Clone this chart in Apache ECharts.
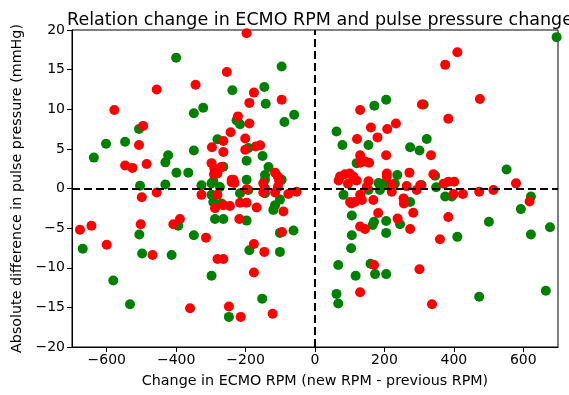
<!DOCTYPE html>
<html>
<head>
<meta charset="utf-8">
<script src="https://cdn.jsdelivr.net/npm/echarts@6/dist/echarts.min.js"></script>
<style>
html,body{margin:0;padding:0;background:#fff;}
#chart{width:569px;height:395px;}
</style>
</head>
<body>
<div id="chart"></div>
<script>
// Tick labels
var xTicks = [-600, -400, -200, 0, 200, 400, 600];
var yTicks = [-20, -15, -10, -5, 0, 5, 10, 15, 20];

// Red series: change in RPM
var redX = [-456,-578,-495,-507,-547,-526,-485,
  -197,-254,-344,-176,-189,-96,-222,-189,-243,-264,-201,-297,-264,-201,-171,-158,
  -298,-290,-281,-270,-291,-240,-235,-115,-107,-103,
  -240,-232,-197,-149,-144,-107,
  -456,-499,-677,-644,-600,-502,-468,-408,-389,-360,
  -327,-281,-288,-264,-245,-216,-197,-168,-149,-115,-77,-53,-91,-218,
  -314,-176,-146,-95,-281,-264,-176,-248,-214,-122,
  130,308,161,208,233,121,180,205,130,334,130,144,156,207,207,272,
  68,72,86,100,110,120,95,154,221,264,303,370,
  410,375,475,384,341,384,401,579,514,473,
  101,115,135,130,149,168,221,255,256,293,283,182,238,130,144,274,360,170,301,130,337,
  399,426,618,384,105];
// Red series: absolute difference in pulse pressure
var redY = [12.5,9.9,7.9,5.5,2.9,2.6,3.1,
  19.6,14.7,13.1,12.1,10.8,11.2,9.1,8.2,7.1,6.0,6.3,5.2,4.6,4.9,5.3,5.45,
  3.2,2.5,1.9,2.7,1.8,1.1,1.1,2.0,1.5,0.85,
  0.8,0.7,-0.1,0.65,0,0.2,
  -0.5,-1.1,-5.2,-4.7,-7.1,-4.5,-8.4,-4.5,-3.85,-15.1,
  -0.8,-0.8,-2.5,-2.1,-2.2,-1.8,-1.8,-2.4,-0.5,-0.5,-0.7,-0.4,-2.9,-3.85,
  -6.2,-7.0,-8.0,-5.5,-8.9,-8.9,-10.6,-14.9,-16.2,-15.8,
  9.9,10.6,7.7,7.5,8.2,6.25,6.45,4.2,4.2,4.2,3.25,3.4,3.25,1.9,1.5,2.0,
  1.0,1.5,1.8,1.9,1.5,1.0,0.6,0.9,0.5,0.3,0.4,0.6,
  17.2,15.6,11.3,8.8,1.8,0.85,0.85,0.65,-0.2,-0.4,
  -1.7,-1.7,-1.45,-0.8,0.2,-1.45,-0.4,-1.25,-1.9,-0.2,-3.05,-3.1,-3.8,-4.8,-5.1,-5.1,-6.4,-9.65,-10.2,-13.1,-14.6,
  -0.7,-0.7,-1.65,-3.6,-1.9];

// Green series
var greenX = [-400,-507,-602,-547,-637,-431,-423,-399,-365,-504,-431,
  -96,-238,-146,-142,-349,-322,-60,-88,-226,-216,-281,-192,-349,-151,-197,-134,-264,-197,-144,-144,-96,-327,-298,-274,-293,
  -192,-144,-216,
  -298,-293,-101,-115,-120,-288,-264,-197,-669,-506,-498,-413,-394,-581,-533,-349,-189,-101,-101,-62,-298,-152,-248,-269,
  205,171,313,62,79,154,322,274,301,120,237,346,183,192,207,230,307,696,552,349,
  82,154,187,274,106,245,170,166,205,205,106,104,67,160,173,205,117,62,67,375,394,622,593,501,410,622,677,473,665];
var greenY = [16.5,7.5,5.65,5.9,3.9,3.3,4.2,2.0,2.0,0.35,0.5,
  15.4,12.4,12.8,10.7,9.5,10.2,9.3,8.4,8.6,8.1,6.2,5.1,4.8,4.1,3.5,2.7,2.75,1.1,1.7,1.1,1.1,0.4,0.65,0.2,0.9,
  -0.2,-0.6,-0.6,
  -0.8,-1.7,-1.4,-2.1,-2.7,-3.85,-3.85,-4.05,-7.6,-5.8,-8.2,-8.4,-4.7,-11.6,-14.6,-5.9,-7.8,-8.0,-5.6,-5.3,-11.0,-13.9,-16.2,-1.9,
  11.2,10.45,10.6,7.2,5.5,5.5,6.25,5.2,4.8,3.2,1.7,1.6,0.7,0.6,0.6,0.6,0.45,19.1,2.4,0.15,
  -0.8,-0.2,-0.2,-1.7,-3.4,-4.5,-4.2,-4.6,-4.1,-5.6,-5.9,-7.55,-9.65,-9.5,-10.8,-10.8,-11.0,-13.3,-14.5,-1.0,-1.0,-1.0,-2.6,-4.2,-6.1,-5.8,-4.9,-13.65,-12.9];

function pairs(xs, ys){ var out=[]; for (var i=0;i<xs.length;i++) out.push([xs[i], ys[i]]); return out; }
function fmt(v){ return String(v).replace('-', '\u2212'); }

var font = 'DejaVu Sans';
var chart = echarts.init(document.getElementById('chart'), null, {renderer:'canvas'});
chart.setOption({
  animation:false,
  backgroundColor:'#fff',
  title:{
    text:'Relation change in ECMO RPM and pulse pressure change',
    left:315, top:6, textAlign:'center',
    textStyle:{fontFamily:font, fontSize:17.5, fontWeight:'normal', color:'#000'}
  },
  grid:{left:72, right:11, top:30, bottom:48, show:true, borderColor:'#000', borderWidth:1, backgroundColor:'transparent'},
  xAxis:{
    type:'value', min:-700, max:700,
    name:'Change in ECMO RPM (new RPM - previous RPM)', nameLocation:'middle', nameGap:27,
    nameTextStyle:{fontFamily:font, fontSize:14.3, color:'#000'},
    axisLine:{show:true, onZero:false, lineStyle:{color:'#000', width:1}},
    axisTick:{show:true, length:5, customValues:xTicks, lineStyle:{color:'#000'}},
    axisLabel:{show:true, margin:6, customValues:xTicks, formatter:fmt, fontFamily:font, fontSize:14, color:'#000'},
    splitLine:{show:false}
  },
  yAxis:{
    type:'value', min:-20, max:20, interval:5,
    name:'Absolute difference in pulse pressure (mmHg)', nameLocation:'middle', nameGap:45,
    nameTextStyle:{fontFamily:font, fontSize:14.3, color:'#000'},
    axisLine:{show:true, onZero:false, lineStyle:{color:'#000', width:1}},
    axisTick:{show:true, length:5, lineStyle:{color:'#000'}},
    axisLabel:{show:true, margin:7, formatter:fmt, fontFamily:font, fontSize:14, color:'#000'},
    splitLine:{show:false}
  },
  series:[
    {
      type:'scatter', name:'green', data:pairs(greenX, greenY), symbolSize:10,
      itemStyle:{color:'#008000', opacity:1}, z:3
    },
    {
      type:'scatter', name:'red', data:pairs(redX, redY), symbolSize:10,
      itemStyle:{color:'#ff0000', opacity:1}, z:3,
      markLine:{
        silent:true, symbol:['none','none'], label:{show:false},
        lineStyle:{color:'#000', width:2, type:[8,4]},
        data:[{xAxis:0},{yAxis:0}],
        z:5
      }
    }
  ]
});
</script>
</body>
</html>
